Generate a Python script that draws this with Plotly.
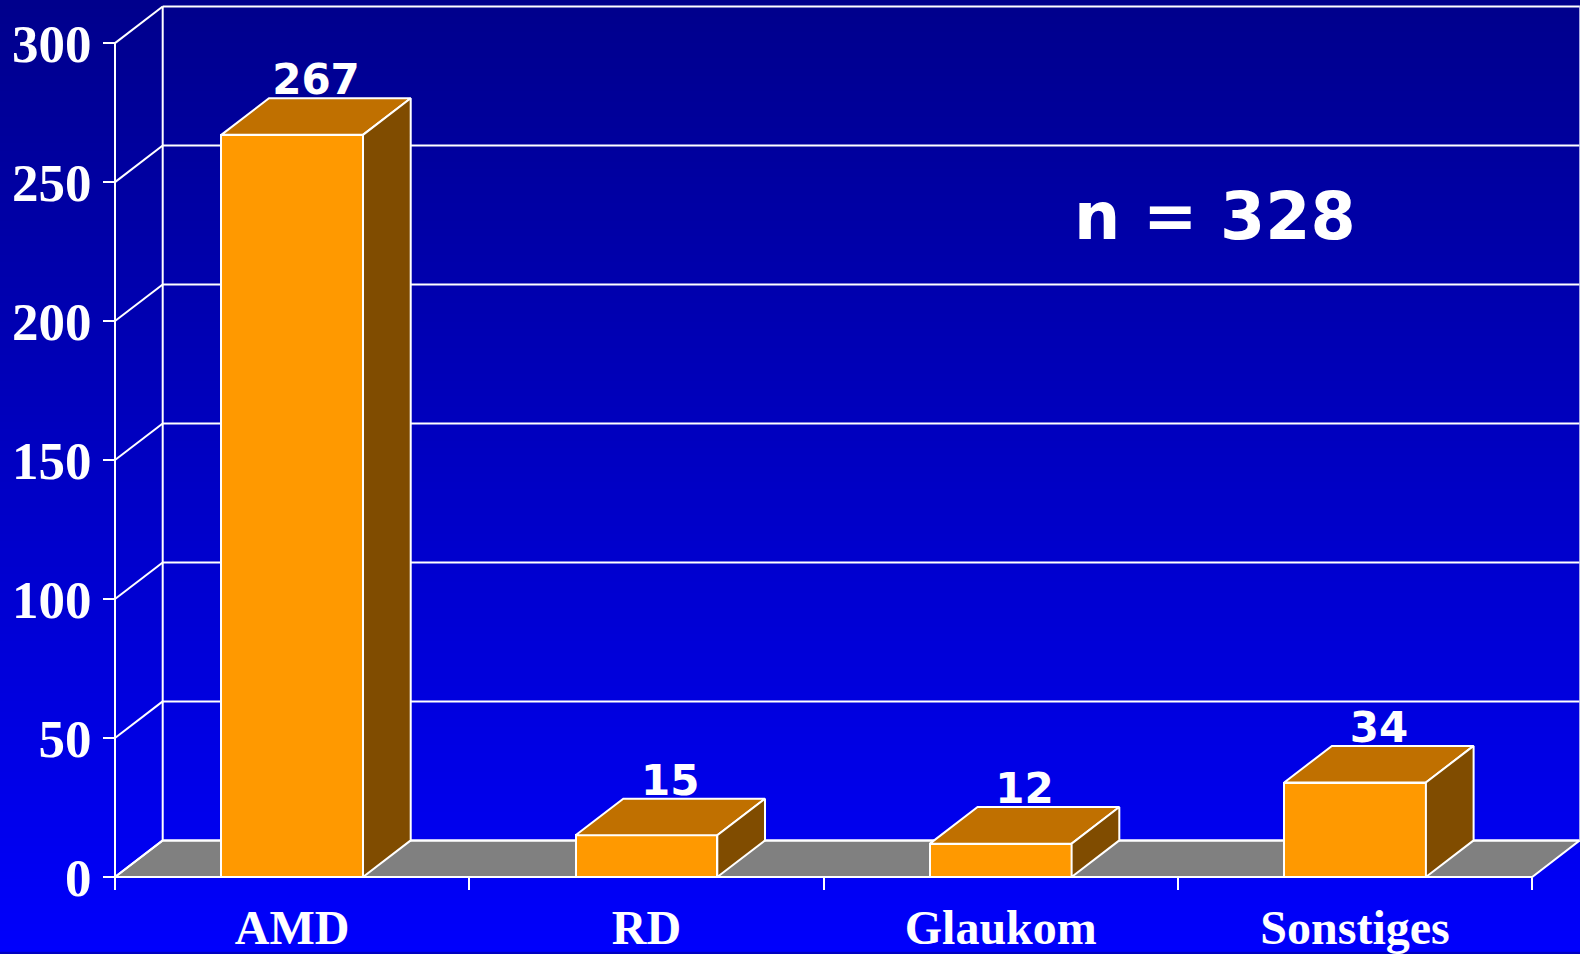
import base64, struct, zlib
import plotly.graph_objects as go

# ---------------- data ----------------
categories = ["AMD", "RD", "Glaukom", "Sonstiges"]
values = [267, 15, 12, 34]
y_ticks = [0, 50, 100, 150, 200, 250, 300]
total_label = "n = 328"

# ---------------- geometry / style ----------------
W, H = 1580, 954
PX_X = 354.3            # pixels per category
PX_Y = 2.786            # pixels per unit
X0_PX, Y0_PX = 115, 879  # pixel position of (-0.5, 0)
DX = 47.7 / PX_X        # depth offset in category units
DY = 36.7 / PX_Y        # depth offset in value units
LABEL_DROP = 6.5 / PX_Y  # pull value labels closer to the bar tops
BAR_W = 0.4
ML, MR, MT, MB = 110, 0, 3, 70
plot_w = W - ML - MR
plot_h = H - MT - MB
x_min = -0.5 - (X0_PX - ML) / PX_X
x_max = x_min + plot_w / PX_X
y_min = -(H - MB - Y0_PX) / PX_Y
y_max = y_min + plot_h / PX_Y

FRONT = "#FF9900"
TOP = "#C07000"
SIDE = "#804C00"
FLOOR = "#808080"
WHITE = "#FFFFFF"


def gradient_png(top, bottom, n=256):
    rows = b""
    for i in range(n):
        t = i / (n - 1)
        c = [int(round(top[k] + (bottom[k] - top[k]) * t)) for k in range(3)]
        rows += b"\x00" + bytes(c)

    def chunk(tag, data):
        return struct.pack(">I", len(data)) + tag + data + struct.pack(">I", zlib.crc32(tag + data) & 0xFFFFFFFF)

    png = b"\x89PNG\r\n\x1a\n"
    png += chunk(b"IHDR", struct.pack(">IIBBBBB", 1, n, 8, 2, 0, 0, 0))
    png += chunk(b"IDAT", zlib.compress(rows))
    png += chunk(b"IEND", b"")
    return "data:image/png;base64," + base64.b64encode(png).decode()


fig = go.Figure()

# front faces
fig.add_trace(go.Bar(
    x=list(range(len(categories))), y=values, width=BAR_W,
    marker=dict(color=FRONT, line=dict(color=WHITE, width=2)),
    showlegend=False, hoverinfo="skip",
))

# top & side faces
for i, v in enumerate(values):
    l, r = i - BAR_W / 2, i + BAR_W / 2
    fig.add_trace(go.Scatter(
        x=[l, l + DX, r + DX, r, l], y=[v, v + DY, v + DY, v, v],
        fill="toself", fillcolor=TOP, mode="lines",
        line=dict(color=WHITE, width=2), showlegend=False, hoverinfo="skip",
    ))
    fig.add_trace(go.Scatter(
        x=[r, r, r + DX, r + DX, r], y=[0, v, v + DY, DY, 0],
        fill="toself", fillcolor=SIDE, mode="lines",
        line=dict(color=WHITE, width=2), showlegend=False, hoverinfo="skip",
    ))

# value labels
fig.add_trace(go.Scatter(
    x=[i + DX / 2 for i in range(len(values))], y=[v + DY - LABEL_DROP for v in values],
    mode="text", text=[str(v) for v in values], textposition="top center",
    textfont=dict(family="DejaVu Sans", size=42, color=WHITE, weight="bold"),
    showlegend=False, hoverinfo="skip", cliponaxis=False,
))

# ---------------- frame (walls, floor, grid) ----------------
shapes = []
xl, xr = -0.5, len(categories) - 0.5
# floor
shapes.append(dict(type="path", xref="x", yref="y", layer="below",
                   path=f"M {xl},0 L {xr},0 L {xr+DX},{DY} L {xl+DX},{DY} Z",
                   fillcolor=FLOOR, line=dict(color=WHITE, width=2)))
for k in y_ticks:
    # back wall gridline
    shapes.append(dict(type="line", xref="x", yref="y", layer="below",
                       x0=xl + DX, y0=k + DY, x1=xr + DX, y1=k + DY,
                       line=dict(color=WHITE, width=2)))
    # side wall diagonal
    shapes.append(dict(type="line", xref="x", yref="y", layer="below",
                       x0=xl, y0=k, x1=xl + DX, y1=k + DY,
                       line=dict(color=WHITE, width=2)))
# back wall left edge
shapes.append(dict(type="line", xref="x", yref="y", layer="below",
                   x0=xl + DX, y0=DY, x1=xl + DX, y1=y_ticks[-1] + DY,
                   line=dict(color=WHITE, width=2)))
# back wall right edge
shapes.append(dict(type="line", xref="x", yref="y", layer="below",
                   x0=xr + DX, y0=DY, x1=xr + DX, y1=y_ticks[-1] + DY,
                   line=dict(color="#C8C8F0", width=1.5)))
# front y axis line
shapes.append(dict(type="line", xref="x", yref="y", layer="below",
                   x0=xl, y0=0, x1=xl, y1=y_ticks[-1],
                   line=dict(color=WHITE, width=2)))
# front x axis line
shapes.append(dict(type="line", xref="x", yref="y", layer="above",
                   x0=xl, y0=0, x1=xr, y1=0,
                   line=dict(color=WHITE, width=2)))

fig.update_layout(
    width=W, height=H,
    margin=dict(l=ML, r=MR, t=MT, b=MB, pad=0),
    paper_bgcolor="#0000C0",
    plot_bgcolor="rgba(0,0,0,0)",
    shapes=shapes,
    images=[dict(source=gradient_png((0, 0, 140), (0, 0, 252)),
                 xref="paper", yref="paper", x=-ML / plot_w, y=1 + MT / plot_h,
                 sizex=W / plot_w, sizey=H / plot_h, sizing="stretch",
                 xanchor="left", yanchor="top", layer="below")],
    bargap=0,
    annotations=[dict(
        text=total_label, xref="x", yref="y",
        x=xl + (1215 - X0_PX) / PX_X, y=(Y0_PX - 217) / PX_Y,
        showarrow=False, xanchor="center", yanchor="middle",
        font=dict(family="DejaVu Sans", size=65, color=WHITE, weight="bold"),
    )],
    xaxis=dict(
        range=[x_min, x_max], anchor="free", position=(H - MB - Y0_PX) / plot_h,
        tickmode="array", tickvals=list(range(len(categories))), ticktext=categories,
        ticks="", showgrid=False, zeroline=False, showline=False,
        tickfont=dict(family="Liberation Serif", size=48, color=WHITE, weight="bold"),
        ticklabelstandoff=18,
        minor=dict(tickmode="array",
                   tickvals=[i - 0.5 for i in range(len(categories) + 1)],
                   ticks="outside", ticklen=12, tickwidth=2, tickcolor=WHITE,
                   showgrid=False),
        fixedrange=True,
    ),
    yaxis=dict(
        range=[y_min, y_max], anchor="free", position=(X0_PX - ML) / plot_w,
        tickmode="array", tickvals=y_ticks,
        ticks="outside", ticklen=12, tickwidth=2, tickcolor=WHITE,
        showgrid=False, zeroline=False, showline=False,
        tickfont=dict(family="Liberation Serif", size=53, color=WHITE, weight="bold"),
        ticklabelstandoff=1,
        fixedrange=True,
    ),
)

fig.write_html("out.html", config={"displayModeBar": False},
               post_script="document.body.style.margin='0px';document.body.style.overflow='hidden';")
